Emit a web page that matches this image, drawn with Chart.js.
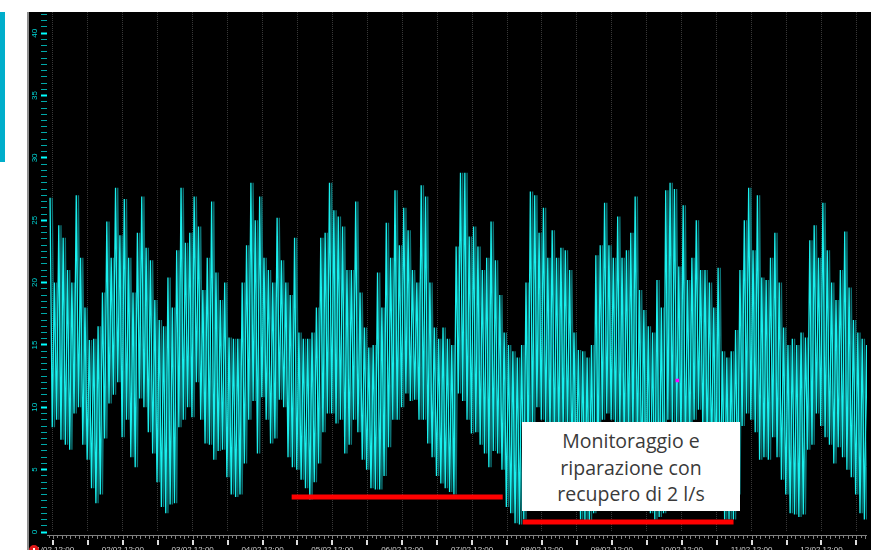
<!DOCTYPE html>
<html>
<head>
<meta charset="utf-8">
<title>Portata</title>
<script src="https://cdn.jsdelivr.net/npm/chart.js@4/dist/chart.umd.min.js"></script>
<style>
  html, body { margin: 0; padding: 0; background: #fff; overflow: hidden; width: 871px; height: 550px; }
  #wrap { position: relative; width: 871px; height: 560px; }
  #wrap canvas { position: absolute; left: 0; top: 0; }
  #side { position: absolute; left: 0; top: 12px; width: 5px; height: 150px; background: #00aecb; }
  #note {
    position: absolute; left: 522px; top: 422px; width: 218px; height: 89px;
    box-sizing: border-box; padding-top: 6px; background: #fff; color: #3a3a3a;
    font-family: "Open Sans", sans-serif; font-size: 19.5px; line-height: 26.7px; text-align: center;
  }
  #badge {
    position: absolute; left: 29px; top: 545px; width: 10px; height: 10px; border-radius: 50%;
    background: #e01818; box-sizing: border-box; border: 3px solid #e01818;
  }
  #badge::after { content: ""; position: absolute; left: 1px; top: 0px; width: 2px; height: 2px; background: #fff; }
</style>
</head>
<body>
<div id="wrap">
  <canvas id="c" width="871" height="560"></canvas>
  <div id="side"></div>
  <div id="note">Monitoraggio e<br>riparazione con<br>recupero di 2 l/s</div>
  <div id="badge"></div>
</div>
<script>
// Flow rate (l/s): local maxima and minima of each 1.5-hour block, one row per day cycle
const flowPeaks = [
  26.8, 20, 24.6, 23.6, 21, 20, 27, 22, 18, 15.4,
  15.5, 16.5, 19.2, 24.9, 22, 27.6, 23.8, 26.7, 22, 19.2, 24, 26.9, 22.8, 21.8, 18.6, 17,
  16.5, 20.4, 18, 22.6, 27.6, 23.2, 24, 26.9, 24.5, 19.4, 22, 26.5, 20.8, 18.6, 20, 15.6,
  15.5, 15.5, 20, 23, 28, 25, 26.9, 22, 21, 20, 25.2, 21.8, 20, 19, 23.6, 16,
  15.5, 15.5, 16, 18, 23.6, 24, 28, 25.8, 25.3, 24.5, 21, 21, 26.5, 19.2, 16.4, 14.8,
  15, 20.8, 18, 24.8, 22, 27.4, 23, 26, 24.2, 21, 20, 27.8, 26.9, 20, 16.4, 15.5,
  16.4, 15.5, 15, 22.9, 28.8, 28.8, 23.7, 24.5, 22.9, 21, 22, 24.9, 21.8, 19, 16, 15,
  14.5, 14, 15, 20, 27.3, 27, 24, 26, 22, 24.2, 22, 22.8, 22.6, 21, 16, 14.6,
  14.5, 14, 15, 22.2, 23, 26.4, 23, 22, 25.3, 22, 22.6, 24, 26.9, 19.4, 17.8, 16.5,
  16, 20.2, 18, 27.4, 28, 27.5, 21.3, 26.2, 20.2, 22, 25, 21, 21, 20, 18, 21.2,
  14.5, 14, 14.5, 16.2, 21, 25, 27.6, 22.6, 27, 20.4, 20.2, 22, 24, 20, 16.4, 15,
  15.5, 15, 16, 15.6, 23.4, 24.6, 22, 26.4, 22.6, 20, 18.6, 21, 24.1, 19.6, 17, 16,
  15.5, 15
];
const flowTroughs = [
  8.4, 9, 7.4, 7, 6.6, 9.5, 10, 7, 5.8, 3.5,
  2.3, 3, 7.5, 10.3, 11, 12, 7.6, 9, 6, 5.2, 10.7, 10, 8, 6.3, 4, 2,
  1.5, 2.2, 2.3, 8.4, 9, 10, 9.2, 12, 9, 7.1, 7, 5.8, 6.5, 6.6, 4.4, 3,
  2.8, 3, 5.5, 9, 10.5, 6.3, 10.8, 9, 7.1, 7.5, 10.6, 10, 6, 5.2, 5, 4.2,
  3.5, 2.6, 4, 5.5, 8, 9.5, 9.5, 8.7, 9, 6.3, 7, 9, 8, 5.8, 5, 3.5,
  3.4, 3.4, 4.5, 6.8, 9, 9, 10, 11.1, 10.5, 10.6, 9, 9, 7.1, 6, 4.5, 3.9,
  3.5, 3.2, 3, 11.1, 10.5, 9, 7.9, 8, 7, 6.3, 5.2, 6.5, 6.3, 5, 2, 1.5,
  0.7, 0.6, 1, 5.8, 8, 10, 9, 8.4, 7.5, 6.6, 7, 7.9, 8, 5.8, 4, 1,
  0.8, 0.8, 1.5, 5.8, 9, 9.5, 9, 8.4, 8, 6.3, 7, 7.5, 6.3, 4.5, 2.8, 1.5,
  1, 1.2, 1.5, 9, 8.4, 8.4, 7, 5.8, 7, 9, 9.8, 8, 6.6, 6, 4, 2,
  1, 1, 1, 3, 8.5, 9.5, 9, 8, 5.8, 6, 5.8, 7.6, 6, 4.2, 3, 1.5,
  1.4, 1.2, 1.4, 6.6, 7, 9.5, 8.5, 7.6, 7, 5.5, 6.8, 6, 5, 4.4, 3, 1.5,
  1, 1
];

// Axis ticks: hours counted from 01/02 00:00, one grid line every 12 h, a date label each day at 12:00
const dayLabels = ['01/02 12:00', '02/02 12:00', '03/02 12:00', '04/02 12:00', '05/02 12:00', '06/02 12:00',
                   '07/02 12:00', '08/02 12:00', '09/02 12:00', '10/02 12:00', '11/02 12:00', '12/02 12:00'];
const dayLabelHours = [12, 36, 60, 84, 108, 132, 156, 180, 204, 228, 252, 276];
const yLabelValues = [0, 5, 10, 15, 20, 25, 30, 35, 40];

// Minimum night flow before and after the leak repair (l/s) and the periods they cover (hours)
const nightMinBefore = 2.8;
const nightMinAfter = 0.8;
const beforeSpan = [94, 166.5];
const afterSpan = [173.4, 245.8];

// Cursor marker
const cursorPoint = { x: 226.5, y: 12.15 };

// Sampling of the flow blocks
const firstHour = 11;
const blockHours = 1.5;

const flowPoints = [];
flowPeaks.forEach((peak, i) => {
  const t = firstHour + i * blockHours;
  flowPoints.push({ x: t, y: peak });
  flowPoints.push({ x: t + blockHours / 2, y: flowTroughs[i] });
});

// Black instrument panel, left rule and the time ruler under the plot
const panel = {
  id: 'panel',
  beforeDraw(chart) {
    const { ctx, width, height } = chart;
    ctx.save();
    ctx.fillStyle = '#000';
    ctx.fillRect(29, 12, width - 29, height - 12);
    ctx.fillStyle = '#8c8c8c';
    ctx.fillRect(27, 12, 2, height - 12);
    ctx.restore();
  },
  afterDraw(chart) {
    const { ctx, chartArea, scales } = chart;
    const x = scales.x;
    const y0 = chartArea.bottom;
    ctx.save();
    ctx.fillStyle = '#808080';
    ctx.fillRect(chartArea.left, y0 + 3, chartArea.right - chartArea.left, 1);
    for (let h = 10.5; h <= x.max; h += 1.5) {
      const px = Math.round(x.getPixelForValue(h));
      ctx.fillRect(px, y0 + 3, 1, (Math.round(h * 2) % 6 === 0) ? 4 : 3);
    }
    ctx.fillStyle = '#dcdcdc';
    x.ticks.forEach(t => {
      const px = Math.round(x.getPixelForValue(t.value));
      ctx.fillRect(px - 1, y0 + 8, 2, 5);
    });
    ctx.restore();
  }
};

// Dark teal after-glow trailing each stroke of the flow trace
const traceGlow = {
  id: 'traceGlow',
  beforeDatasetDraw(chart, args) {
    if (chart.data.datasets[args.index].label !== 'Portata') return;
    const ctx = chart.ctx;
    ctx.save();
    ctx.shadowColor = '#0c7073';
    ctx.shadowOffsetX = 2.2;
    ctx.shadowOffsetY = 0;
    ctx.shadowBlur = 0;
  },
  afterDatasetDraw(chart, args) {
    if (chart.data.datasets[args.index].label !== 'Portata') return;
    chart.ctx.restore();
  }
};

new Chart(document.getElementById('c'), {
  type: 'line',
  data: {
    datasets: [
      {
        label: 'Minimo notturno prima',
        data: [{ x: beforeSpan[0], y: nightMinBefore }, { x: beforeSpan[1], y: nightMinBefore }],
        borderColor: '#ff0000', borderWidth: 5, borderCapStyle: 'butt', pointRadius: 0, order: 0
      },
      {
        label: 'Minimo notturno dopo',
        data: [{ x: afterSpan[0], y: nightMinAfter }, { x: afterSpan[1], y: nightMinAfter }],
        borderColor: '#ff0000', borderWidth: 5, borderCapStyle: 'butt', pointRadius: 0, order: 0
      },
      {
        label: 'Cursore',
        type: 'scatter',
        data: [cursorPoint],
        pointStyle: 'rect', pointRadius: 2.5, backgroundColor: '#ff00ff', borderColor: '#ff00ff',
        borderWidth: 0, order: 1
      },
      {
        label: 'Portata',
        data: flowPoints,
        borderColor: '#19f0ee', borderWidth: 1.3, borderJoinStyle: 'bevel',
        pointRadius: 0, tension: 0, order: 2
      }
    ]
  },
  options: {
    responsive: false,
    animation: false,
    devicePixelRatio: 1,
    normalized: true,
    layout: { padding: { left: 27, top: 12, right: 0, bottom: 0 } },
    plugins: { legend: { display: false }, tooltip: { enabled: false } },
    scales: {
      x: {
        type: 'linear',
        min: 9.95,
        max: 291.65,
        afterFit(scale) { scale.height = 28; },
        grid: { color: '#383838', lineWidth: 1, drawTicks: false },
        border: { display: false, dash: [1, 1] },
        ticks: {
          stepSize: 12,
          includeBounds: false,
          autoSkip: false,
          maxRotation: 0,
          padding: 13,
          color: '#d0d0d0',
          font: { family: "'Liberation Sans', Arial, sans-serif", size: 8 },
          callback(value) {
            const i = dayLabelHours.indexOf(value);
            return i >= 0 ? dayLabels[i] : '';
          }
        }
      },
      y: {
        type: 'linear',
        min: 0,
        max: 41.7,
        afterFit(scale) { scale.width = 20; },
        grid: {
          drawOnChartArea: false,
          drawTicks: true,
          tickLength: 6,
          tickColor: ctx => (yLabelValues.includes(ctx.tick.value) ? '#00ffff' : '#00a8a8'),
          tickWidth: ctx => (yLabelValues.includes(ctx.tick.value) ? 2 : 1)
        },
        border: { display: false },
        ticks: {
          stepSize: 0.5,
          includeBounds: false,
          autoSkip: false,
          minRotation: 90,
          maxRotation: 90,
          crossAlign: 'center',
          padding: 2,
          color: '#00d8d8',
          font: { family: "'Liberation Sans', Arial, sans-serif", size: 8 },
          callback(value) {
            return yLabelValues.includes(value) ? String(value) : '';
          }
        }
      }
    }
  },
  plugins: [panel, traceGlow]
});
</script>
</body>
</html>
